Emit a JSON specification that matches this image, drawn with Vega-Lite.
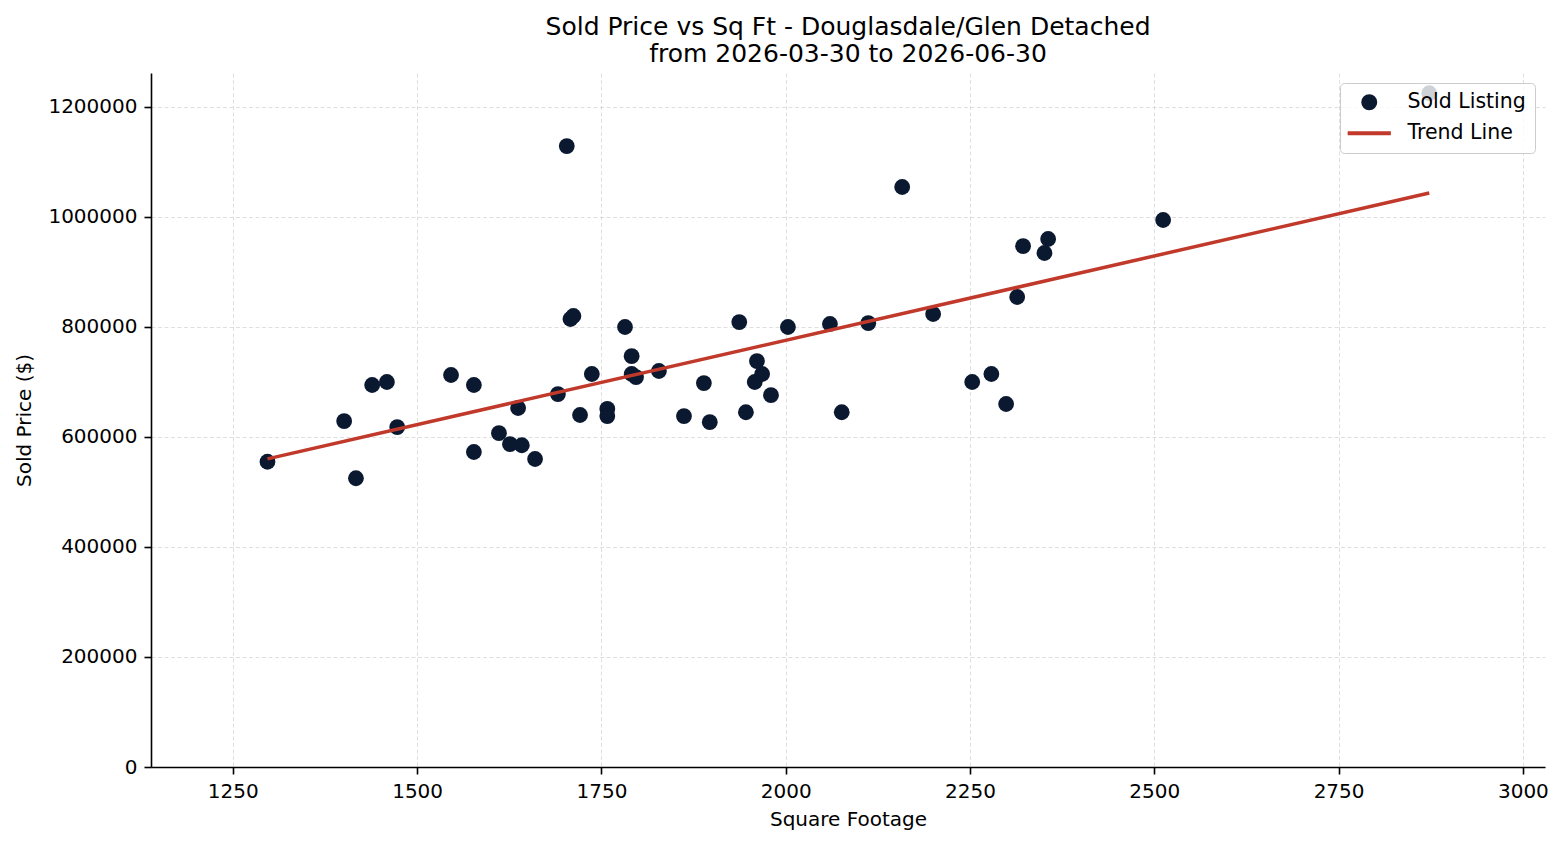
{
  "$schema": "https://vega.github.io/schema/vega-lite/v6.json",
  "width": 1394,
  "height": 694,
  "autosize": {"type": "none"},
  "padding": {"left": 151, "top": 73, "right": 20, "bottom": 78},
  "background": "white",
  "title": {
    "text": ["Sold Price vs Sq Ft - Douglasdale/Glen Detached", "from 2026-03-30 to 2026-06-30"],
    "font": "DejaVu Sans",
    "fontSize": 25,
    "fontWeight": "normal",
    "color": "black",
    "anchor": "middle",
    "offset": 6,
    "lineHeight": 27
  },
  "config": {
    "view": {"stroke": null},
    "axis": {
      "labelFont": "DejaVu Sans",
      "labelFontSize": 20,
      "labelColor": "black",
      "titleFont": "DejaVu Sans",
      "titleFontSize": 20,
      "titleFontWeight": "normal",
      "titleColor": "black",
      "domainColor": "black",
      "domainWidth": 1.6,
      "tickColor": "black",
      "tickWidth": 1.6,
      "tickSize": 7,
      "labelPadding": 7,
      "gridColor": "#cccccc",
      "gridWidth": 0.8,
      "gridDash": [4, 2.5],
      "gridOpacity": 0.8
    }
  },
  "datasets": {
    "points": [
      {"sqft": 1297, "price": 555000, "series": "Sold Listing"},
      {"sqft": 1401, "price": 629000, "series": "Sold Listing"},
      {"sqft": 1417, "price": 525000, "series": "Sold Listing"},
      {"sqft": 1439, "price": 694500, "series": "Sold Listing"},
      {"sqft": 1459, "price": 700000, "series": "Sold Listing"},
      {"sqft": 1473, "price": 618000, "series": "Sold Listing"},
      {"sqft": 1546, "price": 712700, "series": "Sold Listing"},
      {"sqft": 1577, "price": 572700, "series": "Sold Listing"},
      {"sqft": 1577, "price": 694500, "series": "Sold Listing"},
      {"sqft": 1611, "price": 607000, "series": "Sold Listing"},
      {"sqft": 1626, "price": 587000, "series": "Sold Listing"},
      {"sqft": 1637, "price": 652700, "series": "Sold Listing"},
      {"sqft": 1642, "price": 585000, "series": "Sold Listing"},
      {"sqft": 1660, "price": 560000, "series": "Sold Listing"},
      {"sqft": 1691, "price": 678000, "series": "Sold Listing"},
      {"sqft": 1703, "price": 1129000, "series": "Sold Listing"},
      {"sqft": 1708, "price": 814500, "series": "Sold Listing"},
      {"sqft": 1712, "price": 820000, "series": "Sold Listing"},
      {"sqft": 1721, "price": 640000, "series": "Sold Listing"},
      {"sqft": 1737, "price": 714500, "series": "Sold Listing"},
      {"sqft": 1758, "price": 651000, "series": "Sold Listing"},
      {"sqft": 1758, "price": 638000, "series": "Sold Listing"},
      {"sqft": 1782, "price": 800000, "series": "Sold Listing"},
      {"sqft": 1791, "price": 747000, "series": "Sold Listing"},
      {"sqft": 1791, "price": 714500, "series": "Sold Listing"},
      {"sqft": 1797, "price": 709000, "series": "Sold Listing"},
      {"sqft": 1828, "price": 720000, "series": "Sold Listing"},
      {"sqft": 1862, "price": 638000, "series": "Sold Listing"},
      {"sqft": 1889, "price": 698000, "series": "Sold Listing"},
      {"sqft": 1897, "price": 627000, "series": "Sold Listing"},
      {"sqft": 1937, "price": 809000, "series": "Sold Listing"},
      {"sqft": 1946, "price": 645000, "series": "Sold Listing"},
      {"sqft": 1958, "price": 700000, "series": "Sold Listing"},
      {"sqft": 1961, "price": 738000, "series": "Sold Listing"},
      {"sqft": 1968, "price": 714500, "series": "Sold Listing"},
      {"sqft": 1980, "price": 676000, "series": "Sold Listing"},
      {"sqft": 2003, "price": 800000, "series": "Sold Listing"},
      {"sqft": 2060, "price": 805500, "series": "Sold Listing"},
      {"sqft": 2076, "price": 645000, "series": "Sold Listing"},
      {"sqft": 2112, "price": 807000, "series": "Sold Listing"},
      {"sqft": 2158, "price": 1054500, "series": "Sold Listing"},
      {"sqft": 2200, "price": 823600, "series": "Sold Listing"},
      {"sqft": 2253, "price": 700000, "series": "Sold Listing"},
      {"sqft": 2279, "price": 714500, "series": "Sold Listing"},
      {"sqft": 2299, "price": 660000, "series": "Sold Listing"},
      {"sqft": 2314, "price": 854500, "series": "Sold Listing"},
      {"sqft": 2322, "price": 947000, "series": "Sold Listing"},
      {"sqft": 2351, "price": 934500, "series": "Sold Listing"},
      {"sqft": 2356, "price": 960000, "series": "Sold Listing"},
      {"sqft": 2512, "price": 994500, "series": "Sold Listing"},
      {"sqft": 2873, "price": 1225000, "series": "Sold Listing"}
    ],
    "trend": [
      {"sqft": 1297, "price": 560300, "series": "Trend Line"},
      {"sqft": 2873, "price": 1043500, "series": "Trend Line"}
    ]
  },
  "encoding": {
    "x": {
      "field": "sqft",
      "type": "quantitative",
      "title": "Square Footage",
      "scale": {"domain": [1139, 3030], "nice": false, "zero": false},
      "axis": {"values": [1250, 1500, 1750, 2000, 2250, 2500, 2750, 3000], "format": "d", "titlePadding": 8}
    },
    "y": {
      "field": "price",
      "type": "quantitative",
      "title": "Sold Price ($)",
      "scale": {"domain": [0, 1261800], "nice": false},
      "axis": {"values": [0, 200000, 400000, 600000, 800000, 1000000, 1200000], "format": "d", "titlePadding": 13}
    }
  },
  "layer": [
    {
      "data": {"name": "points"},
      "mark": {"type": "point", "filled": true, "size": 250, "opacity": 1},
      "encoding": {
        "color": {
          "field": "series",
          "type": "nominal",
          "scale": {"domain": ["Sold Listing", "Trend Line"], "range": ["#0a1930", "#c0392b"]},
          "legend": {
            "title": null,
            "orient": "top-right",
            "offset": 10,
            "fillColor": "rgba(255,255,255,0.8)",
            "strokeColor": "#cccccc",
            "cornerRadius": 4,
            "padding": 9,
            "labelFont": "DejaVu Sans",
            "labelFontSize": 20.5,
            "labelColor": "black",
            "symbolSize": 144,
            "symbolStrokeWidth": 4,
            "symbolOffset": 10,
            "labelOffset": 28,
            "rowPadding": 6,
            "encode": {
              "symbols": {
                "update": {
                  "stroke": {"scale": "color", "field": "value"}
                }
              }
            }
          }
        },
        "shape": {
          "field": "series",
          "type": "nominal",
          "scale": {"domain": ["Sold Listing", "Trend Line"], "range": ["circle", "M-3.6,0L3.6,0"]},
          "legend": {
            "title": null,
            "orient": "top-right",
            "offset": 10,
            "fillColor": "rgba(255,255,255,0.8)",
            "strokeColor": "#cccccc",
            "cornerRadius": 4,
            "padding": 9,
            "labelFont": "DejaVu Sans",
            "labelFontSize": 20.5,
            "labelColor": "black",
            "symbolSize": 144,
            "symbolStrokeWidth": 4,
            "symbolOffset": 10,
            "labelOffset": 28,
            "rowPadding": 6
          }
        }
      }
    },
    {
      "data": {"name": "trend"},
      "mark": {"type": "line", "strokeWidth": 3.5},
      "encoding": {
        "color": {"field": "series", "type": "nominal"}
      }
    }
  ]
}
